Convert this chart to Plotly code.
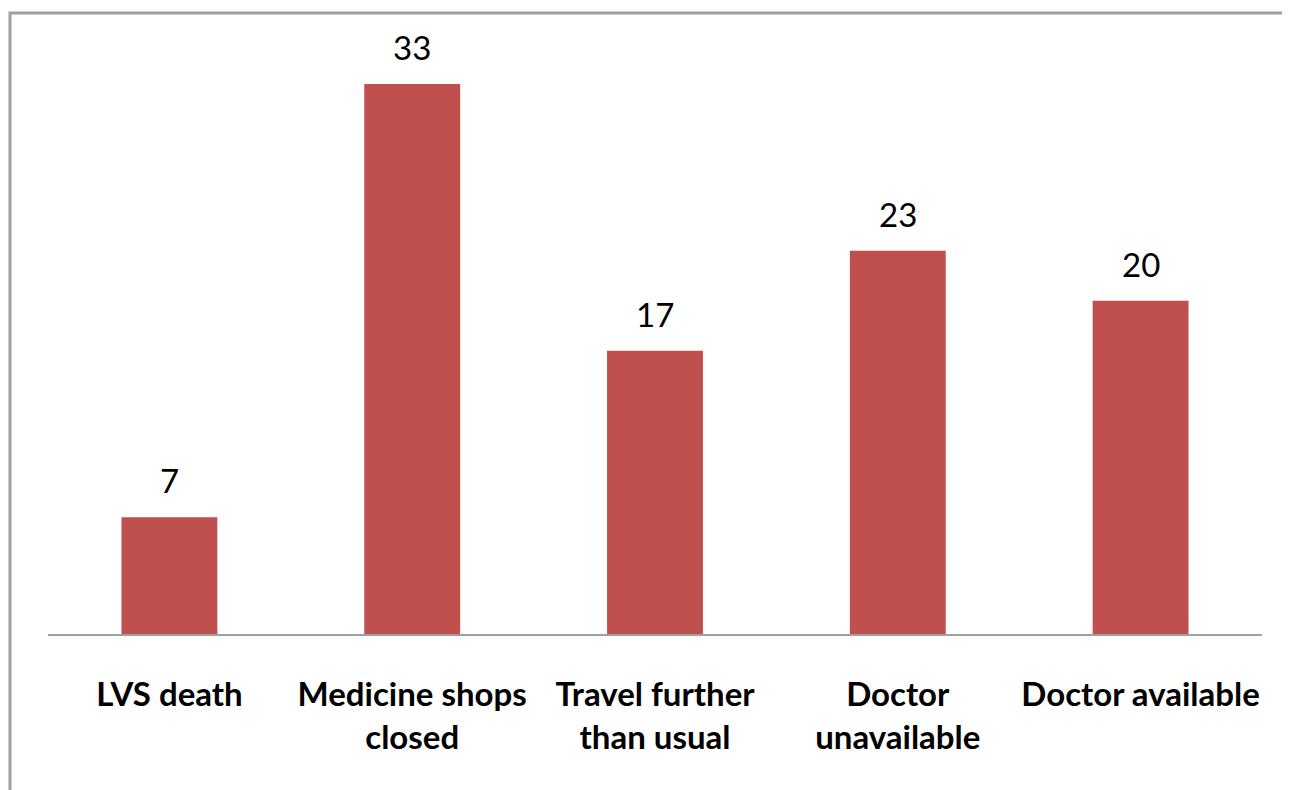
import plotly.graph_objects as go

categories = ["LVS death", "Medicine shops<br>closed", "Travel further<br>than usual", "Doctor<br>unavailable", "Doctor available"]
values = [7, 33, 17, 23, 20]
labels = [str(v) for v in values]

# page has an 8px body margin, so the figure is drawn 8px right/down
W, H = 1282, 782
ml, mr, mt, mb = 40, 28, 26, 156
pw, ph = W - ml - mr, H - mt - mb

fig = go.Figure()
fig.add_trace(go.Bar(x=categories, y=values, marker=dict(color="#C0504D", line=dict(width=0)),
                     width=0.395, hoverinfo="x+y"))

for c, v, t in zip(categories, values, labels):
    fig.add_annotation(x=c, y=v, text=t, showarrow=False, yanchor="bottom", yshift=15,
                       font=dict(family="Lato", size=33, color="#000000"))

# outer chart border (left and top)
x0 = (2 - ml) / pw
y0 = (ph + mt - 5) / ph
fig.add_shape(type="path", xref="paper", yref="paper",
              path=f"M {x0} -0.5 L {x0} {y0} L 1.1 {y0}",
              line=dict(color="#A0A0A0", width=3))

fig.update_layout(
    width=W, height=H,
    margin=dict(l=ml, r=mr, t=mt, b=mb),
    paper_bgcolor="white", plot_bgcolor="white",
    showlegend=False,
    xaxis=dict(showline=True, linecolor="#A0A0A0", linewidth=2, showgrid=False, ticks="",
               tickangle=0, ticklabelstandoff=30,
               tickfont=dict(family="Lato", size=33, color="#000000", weight="bold")),
    yaxis=dict(range=[0, 36], visible=False, showgrid=False, zeroline=False),
)

fig.write_html("out.html")
